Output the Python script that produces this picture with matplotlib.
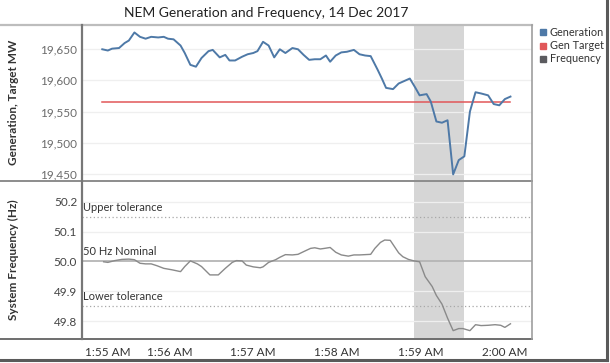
import matplotlib
matplotlib.use("Agg")
import matplotlib.pyplot as plt
from matplotlib.lines import Line2D
from matplotlib.patches import Rectangle

# ── data (seconds after 1:55:00 AM) ──────────────────────────────────────────
gen_seconds = [12, 16, 19, 24, 28, 31, 35, 39, 43, 47, 52, 56, 59, 63, 68, 71,
               75, 79, 83, 88, 91, 96, 100, 103, 107, 112, 116, 120, 123, 127,
               131, 135, 139, 143, 148, 152, 156, 160, 164, 168, 172, 175, 179,
               183, 187, 192, 196, 200, 204, 209, 212, 215, 220, 224, 228, 232,
               236, 239, 244, 247, 251, 255, 259, 263, 267, 271, 275, 279, 283,
               288, 292, 296, 300, 304]
gen_mw = [19650, 19648, 19651, 19652, 19660, 19664, 19677, 19670, 19667, 19670,
          19669, 19670, 19667, 19666, 19656, 19644, 19625, 19622, 19636, 19647,
          19649, 19637, 19641, 19632, 19632, 19638, 19642, 19644, 19647, 19662,
          19656, 19637, 19650, 19644, 19652, 19650, 19641, 19633, 19634, 19634,
          19640, 19630, 19640, 19645, 19646, 19649, 19642, 19640, 19639, 19617,
          19603, 19588, 19586, 19595, 19599, 19603, 19588, 19576, 19578, 19566,
          19534, 19532, 19536, 19449, 19472, 19478, 19550, 19581, 19579, 19576,
          19562, 19560, 19570, 19574]

target_seconds = [12, 304]
target_mw = [19566, 19566]

freq_seconds = [13, 16, 21, 26, 31, 35, 39, 43, 47, 51, 56, 62, 68, 71, 75, 80,
                83, 89, 95, 100, 105, 108, 112, 115, 120, 125, 127, 131, 136,
                139, 143, 148, 152, 156, 161, 164, 168, 171, 175, 179, 183, 188,
                192, 196, 200, 204, 207, 211, 214, 218, 220, 224, 227, 231, 235,
                239, 243, 248, 251, 255, 259, 263, 267, 270, 275, 279, 283, 288,
                293, 297, 300, 304]
freq_hz = [49.999, 49.997, 50.003, 50.007, 50.008, 50.006, 49.994, 49.992,
           49.992, 49.986, 49.977, 49.972, 49.966, 49.983, 50.002, 49.992,
           49.983, 49.955, 49.955, 49.977, 49.997, 50.003, 50.002, 49.988,
           49.982, 49.979, 49.982, 49.997, 50.006, 50.014, 50.023, 50.022,
           50.024, 50.033, 50.044, 50.046, 50.042, 50.044, 50.047, 50.031,
           50.022, 50.018, 50.022, 50.022, 50.023, 50.024, 50.044, 50.064,
           50.072, 50.071, 50.057, 50.029, 50.016, 50.007, 50.002, 49.999,
           49.949, 49.916, 49.886, 49.857, 49.810, 49.768, 49.775, 49.775,
           49.768, 49.788, 49.785, 49.786, 49.788, 49.786, 49.779, 49.791]

event_window = (235, 271)          # shaded band
nominal_hz = 50.0
upper_tol, lower_tol = 50.15, 49.85

x_ticks = [0, 60, 120, 180, 240, 300]
x_labels = ["1:55 AM", "1:56 AM", "1:57 AM", "1:58 AM", "1:59 AM", "2:00 AM"]
gen_ticks = [19450, 19500, 19550, 19600, 19650]
freq_ticks = [49.8, 49.9, 50.0, 50.1, 50.2]

legend_items = ["Generation", "Gen Target", "Frequency"]

# ── style ─────────────────────────────────────────────────────────────────────
FONT = "Lato"
C_GEN = "#4e79a7"
C_TGT = "#e15759"
C_FREQ = "#8a8a8a"
C_FREQ_KEY = "#5b5b5f"
C_GRID = "#efefef"
C_SHADE = "#d6d6d6"
plt.rcParams["font.family"] = [FONT, "DejaVu Sans"]

W, H = 610, 363
fig = plt.figure(figsize=(W / 100, H / 100), dpi=100)


def fx(px):
    return px / W


def fy(py):
    return 1 - py / H


left, right = 82, 532
ax1 = fig.add_axes([fx(left), fy(180), fx(right - left), (180 - 25) / H])
ax2 = fig.add_axes([fx(left), fy(339), fx(right - left), (339 - 181) / H])

for ax in (ax1, ax2):
    ax.set_xlim(-2.5, 319.4)
    ax.axvspan(*event_window, color=C_SHADE, lw=0, zorder=0)
    for s in ax.spines.values():
        s.set_visible(False)
    ax.tick_params(length=0)
    ax.set_xticks(x_ticks)

# upper panel
ax1.set_ylim(19440, 19689)
ax1.set_yticks(gen_ticks)
ax1.set_yticklabels([f"{v:,}" for v in gen_ticks], fontsize=8.5, color="#6b6b6b")
for v in gen_ticks:
    ax1.axhline(v, color=C_GRID, lw=0.9, zorder=1)
ax1.plot(target_seconds, target_mw, color=C_TGT, lw=1.1, zorder=3)
ax1.plot(gen_seconds, gen_mw, color=C_GEN, lw=1.4, zorder=4)
ax1.set_xticklabels([])
ax1.set_ylabel("Generation, Target MW", fontsize=8.5, fontweight="bold",
               color="#333333")

# lower panel
ax2.set_ylim(49.74, 50.27)
ax2.set_yticks(freq_ticks)
ax2.set_yticklabels([f"{v:.1f}" for v in freq_ticks], fontsize=8.5, color="#444444")
for v in freq_ticks:
    if v != nominal_hz:
        ax2.axhline(v, color=C_GRID, lw=0.9, zorder=1)
ax2.axhline(nominal_hz, color="#b5b5b5", lw=1.3, zorder=2)
ax2.axhline(upper_tol, color="#a8a8a8", lw=0.9, ls=(0, (1, 2)), zorder=2)
ax2.axhline(lower_tol, color="#a8a8a8", lw=0.9, ls=(0, (1, 2)), zorder=2)
ax2.plot(freq_seconds, freq_hz, color=C_FREQ, lw=1.0, zorder=4)
ax2.set_xticklabels(x_labels, fontsize=8.5, color="#333333")
ax2.tick_params(axis="x", pad=6)
ax2.get_xticklabels()[0].set_horizontalalignment("left")
ax2.set_ylabel("System Frequency (Hz)", fontsize=8.5, fontweight="bold",
               color="#333333")

ref_text = [("Upper tolerance", upper_tol), ("50 Hz Nominal", nominal_hz),
            ("Lower tolerance", lower_tol)]
for txt, yv in ref_text:
    ax2.annotate(txt, (0, yv), xycoords=("axes fraction", "data"),
                 xytext=(1, 3), textcoords="offset points",
                 fontsize=8, color="#333333", va="bottom", ha="left")

# same x position for both y-labels
ax1.yaxis.set_label_coords(-0.14, 0.5)
ax2.yaxis.set_label_coords(-0.14, 0.5)

# frame lines drawn in figure coords
frame = [
    ((0, right), (25, 25), "#bdbdbd", 1.6),
    ((0, right), (180.5, 180.5), "#8c8c8c", 1.4),
    ((0, right), (339, 339), "#6e6e6e", 1.4),
    ((left, left), (25, 339), "#777777", 1.6),
    ((right, right), (25, 339), "#9e9e9e", 1.2),
    ((607, 607), (0, 360), "#5a5a5a", 2.2),
    ((0, 607), (359.5, 359.5), "#5a5a5a", 2.2),
]
for xs, ys, c, lw in frame:
    fig.add_artist(Line2D([fx(x) for x in xs], [fy(y) for y in ys],
                          color=c, lw=lw, transform=fig.transFigure))

fig.text(fx(266), fy(13), "NEM Generation and Frequency, 14 Dec 2017",
         ha="center", va="center", fontsize=10, color="#222222")

# legend
for i, (name, col) in enumerate(zip(legend_items, [C_GEN, C_TGT, C_FREQ_KEY])):
    yc = 32 + i * 13.5
    fig.add_artist(Rectangle((fx(540), fy(yc + 3)), fx(6), 6 / H,
                             color=col, transform=fig.transFigure))
    fig.text(fx(550), fy(yc), name, ha="left", va="center",
             fontsize=7.8, color="#333333")

fig.savefig("out.png", dpi=100)
